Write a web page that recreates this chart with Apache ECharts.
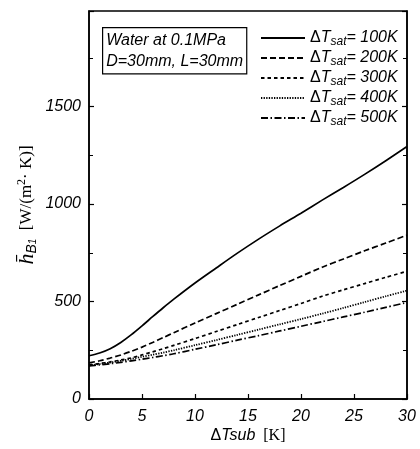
<!DOCTYPE html>
<html>
<head>
<meta charset="utf-8">
<script src="https://cdn.jsdelivr.net/npm/echarts@6/dist/echarts.min.js"></script>
<style>html,body{margin:0;padding:0;background:#fff}#c{width:420px;height:449px}</style>
</head>
<body>
<div id="c"></div>
<script>
const xValues = [0,1,2,3,4,5,6,7,8,10,12,14,16,18,20,22,24,26,28,30];
const h100 = [222,236,258,290,330,375,422,468,512,595,672,748,820,888,953,1020,1085,1152,1222,1295];
const h200 = [185,196,210,226,245,266,290,315,340,390,438,486,534,582,629,676,718,760,800,840];
const h300 = [175,182,190,200,211,226,242,258,275,310,346,382,418,454,490,527,560,592,624,655];
const h400 = [172,179,187,196,206,216,227,238,250,276,302,329,356,383,410,438,467,497,527,556];
const h500 = [170,175,181,188,196,204,213,222,232,255,278,302,325,349,373,397,421,445,470,495];
const seriesNames = ['100K','200K','300K','400K','500K'];
const xTicks = [0,5,10,15,20,25,30];
const yTicks = [0,500,1000,1500];

const dashes = ['solid',[6,3],[3.5,3],[1.3,1.3],[7,2.5,1.5,2.5]];
const allData = [h100,h200,h300,h400,h500];
const sans = '"Liberation Sans", Arial, sans-serif';
const serif = '"Liberation Serif", "Times New Roman", serif';

const chart = echarts.init(document.getElementById('c'));
const series = allData.map((arr,i)=>({
  name: seriesNames[i],
  type: 'line',
  data: arr.map((v,j)=>[xValues[j],v]),
  smooth: 0.3,
  symbol: 'none',
  lineStyle: {color:'#000', width: i===3?1.8:1.7, type: dashes[i]},
  itemStyle: {color:'#000'},
  z: 5
}));
const tickStyle = {show:true, inside:true, length:5, lineStyle:{color:'#000', width:1.2}};
const minorStyle = {show:true, splitNumber:2, length:4, lineStyle:{color:'#000', width:1}};
chart.setOption({
  animation: false,
  backgroundColor: '#fff',
  grid: {left: 89, right: 13, top: 11, bottom: 50, show: true, borderColor:'#000', borderWidth:1.5, backgroundColor:'transparent'},
  xAxis: [{
    type: 'value', min: 0, max: 30, interval: 5,
    axisLine: {show:true, lineStyle:{color:'#000', width:1.5}},
    axisTick: tickStyle,
    splitLine: {show:false},
    axisLabel: {color:'#000', fontSize:16, fontStyle:'italic', fontFamily:sans, margin:10,
      formatter: v => xTicks.includes(v) ? String(v) : ''},
    name: '{d|Δ}{t|Tsub}{k|  [K]}',
    nameLocation: 'middle', nameGap: 29, nameMoveOverlap: false,
    nameTextStyle: {rich: {
      d:{fontSize:16, fontFamily:sans, color:'#000'},
      t:{fontSize:16, fontFamily:sans, fontStyle:'italic', color:'#000'},
      k:{fontSize:16, fontFamily:serif, color:'#000'}
    }}
  }],
  yAxis: [{
    type: 'value', min: 0, max: 1990, interval: 500,
    axisLine: {show:true, lineStyle:{color:'#000', width:1.5}},
    axisTick: tickStyle,
    minorTick: minorStyle,
    splitLine: {show:false},
    axisLabel: {color:'#000', fontSize:16, fontStyle:'italic', fontFamily:sans, margin:8,
      formatter: v => yTicks.includes(v) ? String(v) : ''},
    name: '{h|h\u0304}{b|B}{o|1}{u|  [W/(m}{sup|2}{u|· K)]}',
    nameLocation: 'middle', nameGap: 50, nameRotate: 90, nameMoveOverlap: false,
    nameTextStyle: {rich: {
      h:{fontSize:22, fontFamily:serif, fontStyle:'italic', color:'#000'},
      b:{fontSize:14, fontFamily:sans, fontStyle:'italic', color:'#000', padding:[10,0,0,0]},
      o:{fontSize:10, fontFamily:sans, fontStyle:'italic', color:'#000', padding:[12,0,0,0]},
      u:{fontSize:17, fontFamily:serif, color:'#000'},
      sup:{fontSize:12, fontFamily:serif, color:'#000', padding:[0,0,10,0]}
    }}
  },{
    type: 'value', min: 0, max: 1990, interval: 500, position:'right',
    axisLine: {show:true, lineStyle:{color:'#000', width:1.5}},
    axisTick: tickStyle, minorTick: minorStyle,
    splitLine:{show:false}, axisLabel:{show:false}
  }],
  legend: {
    orient: 'vertical', left: 255, top: 25, itemWidth: 44, itemHeight: 13, itemGap: 2,
    itemStyle: {opacity: 0},
    formatter: name => '{d|Δ}{t|T}{s|sat}{n|= ' + name + '}',
    data: seriesNames,
    textStyle: {color:'#000', rich: {
      d:{fontSize:16, fontFamily:sans, color:'#000'},
      t:{fontSize:16, fontFamily:sans, fontStyle:'italic', color:'#000'},
      s:{fontSize:12, fontFamily:sans, fontStyle:'italic', color:'#000', padding:[8,0,0,0]},
      n:{fontSize:16, fontFamily:sans, fontStyle:'italic', color:'#000'}
    }}
  },
  graphic: [{
    type: 'text', left: 102, top: 27, z: 10,
    style: {
      text: 'Water at 0.1MPa\nD=30mm, L=30mm',
      font: 'italic 16px "Liberation Sans", Arial, sans-serif',
      fill: '#000', lineHeight: 21,
      backgroundColor: '#fff', borderColor: '#000', borderWidth: 1.2,
      padding: [2, 3, 1, 3]
    }
  }],
  series: series
});
</script>
</body>
</html>
